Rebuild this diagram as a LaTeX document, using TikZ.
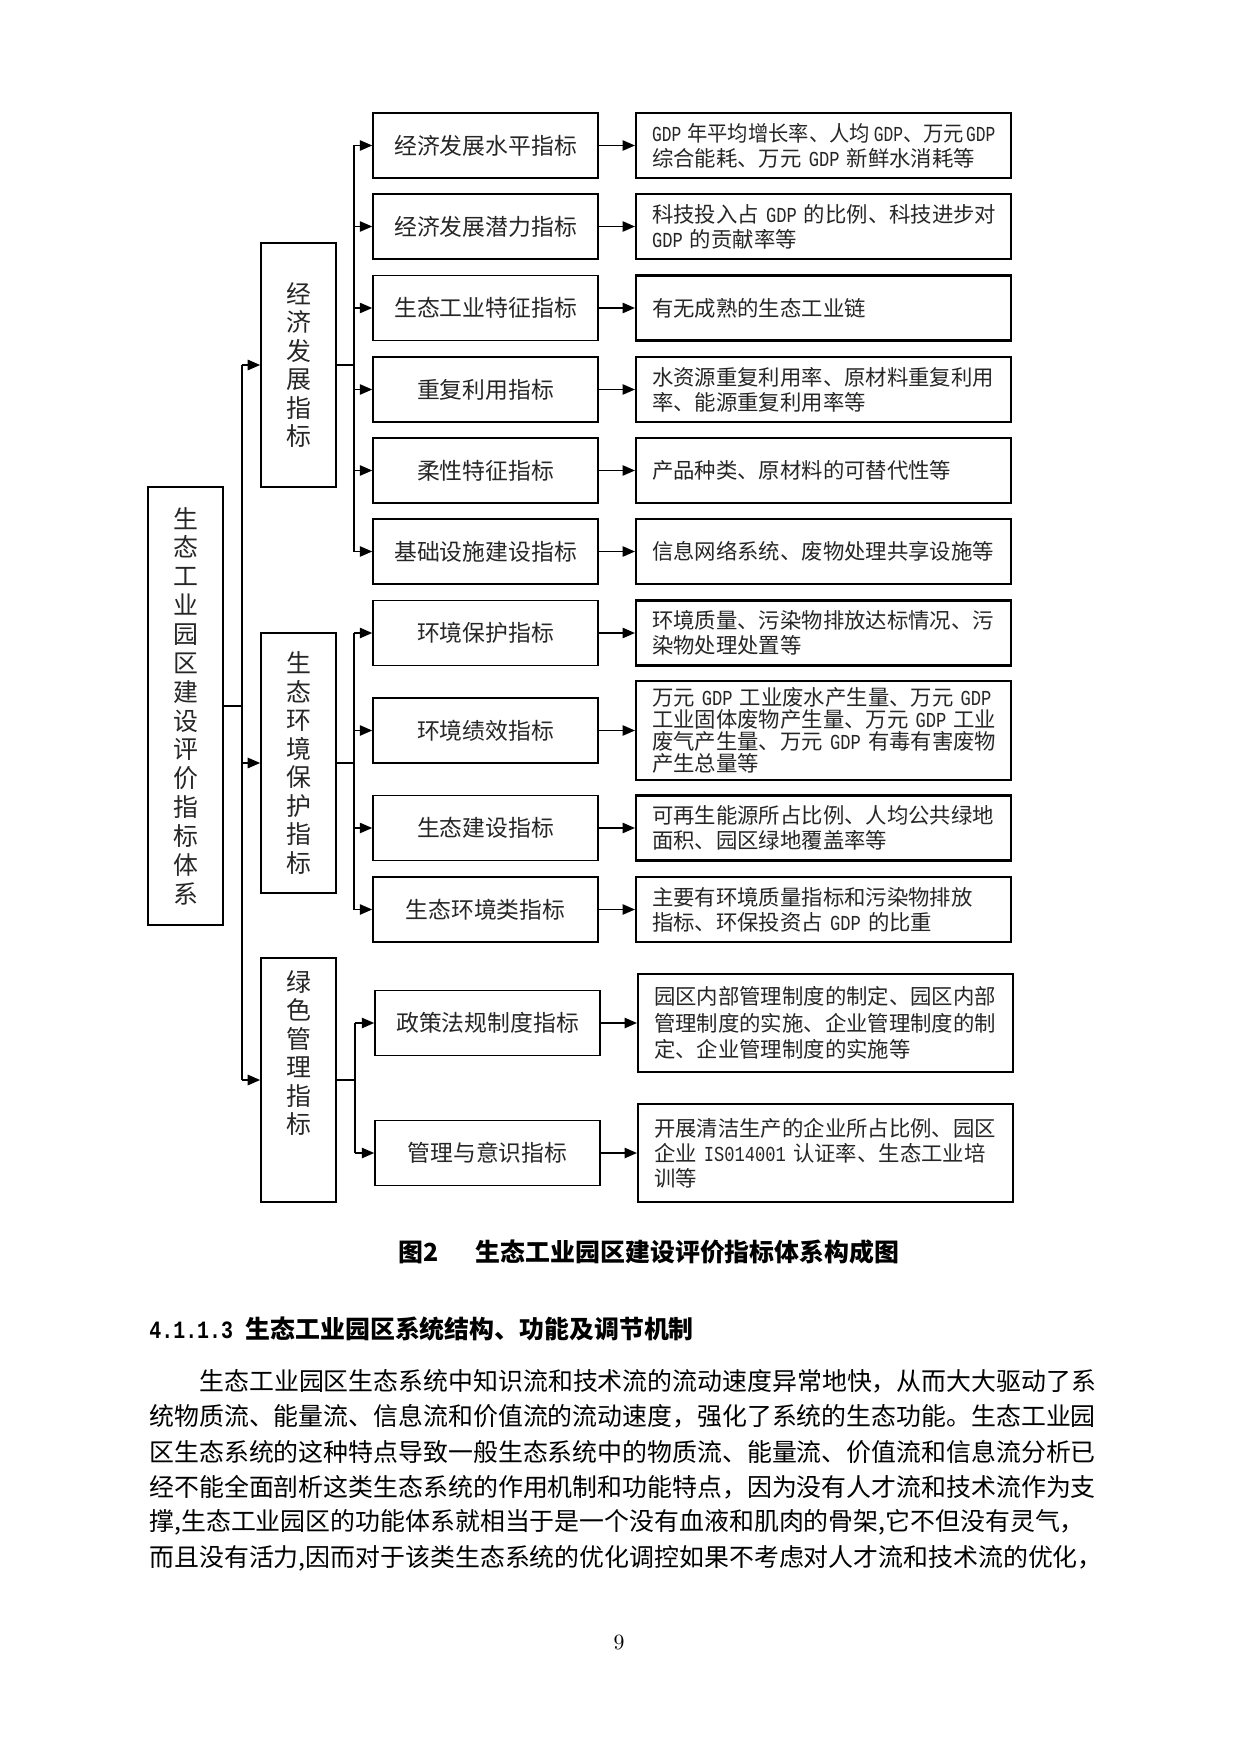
\documentclass[tikz,border=0pt]{standalone}
\usepackage{fontspec}
\usepackage{graphicx}
\usepackage{xcolor}
\usepackage{tikz}
\usetikzlibrary{arrows.meta}
\newfontfamily\cjk{Noto Sans CJK SC}
\newfontfamily\latn{Liberation Mono}
\newcommand{\lat}[1]{\scalebox{0.8}[1]{\latn #1}}
\newcommand{\pxl}{0.4818pt}

\begin{document}
\begin{tikzpicture}[x=0.4818pt, y=-0.4818pt,
  rootbox/.style={draw, line width=0.7pt, minimum width=75*\pxl, inner sep=0pt, align=center, text=black!85, font=\cjk\fontsize{12}{13.9}\selectfont},
  catbox/.style={draw, line width=0.8pt, minimum width=75*\pxl, inner sep=0pt, align=center, text=black!85, font=\cjk\fontsize{12}{13.7}\selectfont},
  midbox/.style={draw, line width=0.75pt, minimum width=225*\pxl, minimum height=65*\pxl, text=black!85, font=\cjk\fontsize{11}{13}\selectfont},
  descbox/.style={draw, line width=1pt, minimum width=375*\pxl, minimum height=65*\pxl, text width=343*\pxl, inner xsep=0pt, align=left, text=black!85, font=\cjk\fontsize{10.3}{12}\selectfont},
  link/.style={line width=0.8pt},
  arr/.style={line width=0.8pt, -{Triangle[length=6pt,width=5pt]}}
]
\useasboundingbox (0,0) rectangle (1241,1754);

\node[rootbox, minimum height=438*\pxl] (root) at (185.5,706) {生\\态\\工\\业\\园\\区\\建\\设\\评\\价\\指\\标\\体\\系};

\node[catbox, minimum height=244*\pxl] (econ) at (298.5,365) {经\\济\\发\\展\\指\\标};
\node[catbox, minimum height=260*\pxl] (envi) at (298.5,763) {生\\态\\环\\境\\保\\护\\指\\标};
\node[catbox, minimum height=244*\pxl, label={[catbox, draw=none, anchor=north, yshift=-6pt]north:绿\\色\\管\\理\\指\\标}] (mgmt) at (298.5,1080) {};

\node[midbox] (m1) at (485.5,145.5) {经济发展水平指标};
\node[midbox] (m2) at (485.5,226.5) {经济发展潜力指标};
\node[midbox] (m3) at (485.5,308) {生态工业特征指标};
\node[midbox] (m4) at (485.5,389.5) {重复利用指标};
\node[midbox] (m5) at (485.5,470.5) {柔性特征指标};
\node[midbox] (m6) at (485.5,551.5) {基础设施建设指标};
\node[midbox] (m7) at (485.5,633) {环境保护指标};
\node[midbox] (m8) at (485.5,730.5) {环境绩效指标};
\node[midbox] (m9) at (485.5,828) {生态建设指标};
\node[midbox] (m10) at (485.5,909.5) {生态环境类指标};
\node[midbox] (m11) at (487.5,1023) {政策法规制度指标};
\node[midbox] (m12) at (487.5,1153) {管理与意识指标};

\node[descbox] (d1) at (823.5,145.5) {\scalebox{0.95}[1]{\lat{GDP}\hspace{3pt}年平均增长率、人均\hspace{2pt}\lat{GDP}、万元\hspace{1pt}\lat{GDP}}\\综合能耗、万元~\lat{GDP}~新鲜水消耗等};
\node[descbox] (d2) at (823.5,226.5) {科技投入占~\lat{GDP}~的比例、科技进步对\\\lat{GDP}~的贡献率等};
\node[descbox] (d3) at (823.5,308) {有无成熟的生态工业链};
\node[descbox] (d4) at (823.5,389.5) {水资源重复利用率、原材料重复利用\\率、能源重复利用率等};
\node[descbox] (d5) at (823.5,470.5) {产品种类、原材料的可替代性等};
\node[descbox] (d6) at (823.5,551.5) {信息网络系统、废物处理共享设施等};
\node[descbox] (d7) at (823.5,633) {环境质量、污染物排放达标情况、污\\染物处理处置等};
\node[descbox, minimum height=97*\pxl, font=\cjk\fontsize{10.3}{10.5}\selectfont] (d8) at (823.5,730.5) {万元~\lat{GDP}~工业废水产生量、万元~\lat{GDP}\\工业固体废物产生量、万元~\lat{GDP}~工业\\废气产生量、万元~\lat{GDP}~有毒有害废物\\产生总量等};
\node[descbox] (d9) at (823.5,828) {可再生能源所占比例、人均公共绿地\\面积、园区绿地覆盖率等};
\node[descbox] (d10) at (823.5,909.5) {主要有环境质量指标和污染物排放\\指标、环保投资占~\lat{GDP}~的比重};
\node[descbox, minimum height=98*\pxl, font=\cjk\fontsize{10.3}{12.8}\selectfont] (d11) at (825.5,1023) {园区内部管理制度的制定、园区内部\\管理制度的实施、企业管理制度的制\\定、企业管理制度的实施等};
\node[descbox, minimum height=98*\pxl] (d12) at (825.5,1153) {开展清洁生产的企业所占比例、园区\\企业~\lat{IS014001}~认证率、生态工业培\\训等};

\coordinate (rootfork) at (242,706);
\coordinate (econfork) at (354,365);
\coordinate (envifork) at (354,763);
\coordinate (mgmtfork) at (355,1080);

\draw[link] (root.east) -- (rootfork);
\draw[link] (rootfork |- econ) -- (rootfork |- mgmt);
\draw[arr] (rootfork |- econ) -- (econ.west);
\draw[arr] (rootfork |- envi) -- (envi.west);
\draw[arr] (rootfork |- mgmt) -- (mgmt.west);

\draw[link] (econ.east) -- (econfork);
\draw[link] (econfork |- m1) -- (econfork |- m6);
\foreach \i in {1,...,6}
  \draw[arr] (econfork |- m\i) -- (m\i.west);

\draw[link] (envi.east) -- (envifork);
\draw[link] (envifork |- m7) -- (envifork |- m10);
\foreach \i in {7,...,10}
  \draw[arr] (envifork |- m\i) -- (m\i.west);

\draw[link] (mgmt.east) -- (mgmtfork);
\draw[link] (mgmtfork |- m11) -- (mgmtfork |- m12);
\foreach \i in {11,12}
  \draw[arr] (mgmtfork |- m\i) -- (m\i.west);

\foreach \i in {1,...,12}
  \draw[arr] (m\i.east) -- (d\i.west);

\node[anchor=west, inner sep=0pt, font=\cjk\bfseries\fontsize{12}{14}\selectfont] (caption) at (398,1252) {图2\hspace{18pt}生态工业园区建设评价指标体系构成图};

\node[anchor=west, inner sep=0pt, font=\cjk\bfseries\fontsize{12}{14}\selectfont] (heading) at (149,1329) {\lat{\bfseries 4.1.1.3}\hspace{6pt}生态工业园区系统结构、功能及调节机制};

\node[anchor=west, inner sep=0pt, font=\cjk\fontsize{12}{14}\selectfont] (line1) at (199,1381) {生态工业园区生态系统中知识流和技术流的流动速度异常地快，从而大大驱动了系};
\node[anchor=west, inner sep=0pt, font=\cjk\fontsize{12}{14}\selectfont] (line2) at (149,1416.4) {统物质流、能量流、信息流和价值流的流动速度，强化了系统的生态功能。生态工业园};
\node[anchor=west, inner sep=0pt, font=\cjk\fontsize{12}{14}\selectfont] (line3) at (149,1451.8) {区生态系统的这种特点导致一般生态系统中的物质流、能量流、价值流和信息流分析已};
\node[anchor=west, inner sep=0pt, font=\cjk\fontsize{12}{14}\selectfont] (line4) at (149,1487.2) {经不能全面剖析这类生态系统的作用机制和功能特点，因为没有人才流和技术流作为支};
\node[anchor=west, inner sep=0pt, font=\cjk\fontsize{12}{14}\selectfont] (line5) at (149,1522.6) {撑,生态工业园区的功能体系就相当于是一个没有血液和肌肉的骨架,它不但没有灵气，};
\node[anchor=west, inner sep=0pt, font=\cjk\fontsize{12}{14}\selectfont] (line6) at (149,1558) {而且没有活力,因而对于该类生态系统的优化调控如果不考虑对人才流和技术流的优化，};

\node[font=\fontsize{10.5}{12}\selectfont] (pagenum) at (619,1642) {9};
\end{tikzpicture}
\end{document}
